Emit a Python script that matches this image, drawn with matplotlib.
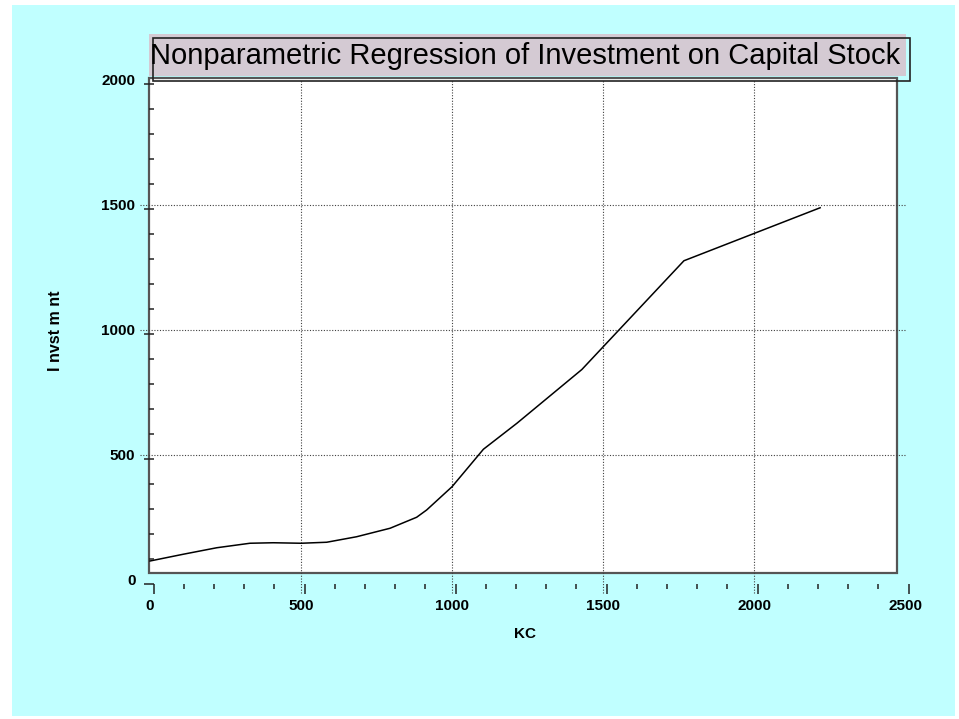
import matplotlib.pyplot as plt
from matplotlib.patches import Rectangle
from matplotlib.ticker import MultipleLocator

W, H = 959, 719

kc = [0, 110, 221, 331, 408, 500, 585, 684, 795, 883, 916, 1000, 1104, 1215, 1430, 1768, 2219]
investment = [74, 101, 127, 145, 147, 145, 149, 171, 205, 249, 278, 371, 521, 625, 840, 1275, 1487]

x_ticks = [0, 500, 1000, 1500, 2000, 2500]
y_ticks = [0, 500, 1000, 1500, 2000]

title = 'Nonparametric Regression of Investment on Capital Stock'
x_label = 'KC'
y_label = 'I nvst m nt'

BG = '#c0ffff'
TITLE_BG = '#d4cad3'
EDGE = '#555555'


def fx(x):
    return x / W


def fy(y):
    return 1 - y / H


def box(fig, x0, y0, x1, y1, **kw):
    r = Rectangle((fx(x0), fy(y1)), (x1 - x0) / W, (y1 - y0) / H,
                  transform=fig.transFigure, **kw)
    fig.patches.append(r)
    return r


plt.rcParams['font.family'] = ['Liberation Sans', 'DejaVu Sans']

fig = plt.figure(figsize=(W / 100, H / 100), dpi=100, facecolor='white')

# page background and plot frame
box(fig, 12, 5, 955, 716, facecolor=BG, edgecolor='none', zorder=-3)
box(fig, 149, 78, 897, 573, facecolor='white', edgecolor=EDGE, lw=1.6, zorder=-2)

# data axes: curve, grid and tick labels
ax = fig.add_axes([fx(150), fy(579.5), 755 / W, 500 / H])
ax.patch.set_visible(False)
for s in ax.spines.values():
    s.set_visible(False)
ax.set_xlim(0, 2500)
ax.set_ylim(0, 2000)
ax.set_xticks(x_ticks)
ax.set_yticks(y_ticks)
ax.tick_params(length=0, labelsize=11)
ax.tick_params(axis='x', pad=14)
ax.tick_params(axis='y', pad=10.5)
for lab in ax.get_xticklabels() + ax.get_yticklabels():
    lab.set_fontweight('bold')

grid_kw = dict(colors='#404040', lw=0.8, linestyles=(0, (1, 1.5)), clip_on=False)
ax.vlines(x_ticks[1:-1], -54, 2000, **grid_kw)
ax.hlines(y_ticks[1:-1], -33, 2500, **grid_kw)

ax.plot(kc, investment, color='black', lw=1.1, clip_on=False)

# tick marks sit a few pixels off the grid
ax2 = fig.add_axes([fx(153.5), fy(584), 755 / W, 500 / H])
ax2.patch.set_visible(False)
for s in ax2.spines.values():
    s.set_visible(False)
ax2.set_xlim(0, 2500)
ax2.set_ylim(0, 2000)
ax2.xaxis.set_major_locator(MultipleLocator(500))
ax2.xaxis.set_minor_locator(MultipleLocator(100))
ax2.yaxis.set_major_locator(MultipleLocator(500))
ax2.yaxis.set_minor_locator(MultipleLocator(100))
ax2.tick_params(which='both', direction='out', color='#222222', width=1.1,
                labelbottom=False, labelleft=False)
ax2.tick_params(which='major', length=7.4)
ax2.tick_params(which='minor', length=3.6)

# axis titles
fig.text(fx(55), fy(331), y_label, rotation=90, ha='center', va='center',
         fontsize=11.5, fontweight='bold')
fig.text(fx(525), fy(634), x_label, ha='center', va='center',
         fontsize=11, fontweight='bold')

# title banner
box(fig, 149, 34, 906, 76, facecolor=TITLE_BG, edgecolor='none', zorder=4)
box(fig, 153, 38, 910, 81, facecolor='none', edgecolor='#222222', lw=1.2, zorder=5)
fig.text(fx(525.5), fy(64), title, ha='center', va='baseline',
         fontsize=21, color='black', zorder=6)

fig.savefig('out.png', dpi=100, facecolor=fig.get_facecolor())
